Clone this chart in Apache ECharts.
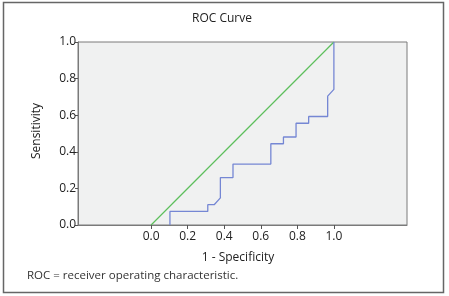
<!DOCTYPE html>
<html>
<head>
<meta charset="utf-8">
<script src="https://cdn.jsdelivr.net/npm/echarts@6/dist/echarts.min.js"></script>
<style>
    html, body { margin: 0; padding: 0; background: #fff; }
    #roc { width: 449px; height: 296px; }
</style>
</head>
<body>
<div id="roc"></div>
<script>
    // ROC 曲线数据 (1 - Specificity, Sensitivity)
    var fpr = [0.103, 0.103, 0.310, 0.310, 0.345, 0.379, 0.379, 0.448, 0.448, 0.655, 0.655, 0.724, 0.724, 0.793, 0.793, 0.862, 0.862, 0.966, 0.966, 1.0, 1.0];
    var tpr = [0.0, 0.074, 0.074, 0.111, 0.111, 0.148, 0.259, 0.259, 0.333, 0.333, 0.444, 0.444, 0.481, 0.481, 0.556, 0.556, 0.593, 0.593, 0.704, 0.741, 1.0];
    // 参考线
    var refX = [0, 1];
    var refY = [0, 1];
    var tickValues = [0, 0.2, 0.4, 0.6, 0.8, 1.0];

    function pairs(xs, ys) {
        var out = [];
        for (var i = 0; i < xs.length; i++) {
            out.push([xs[i], ys[i]]);
        }
        return out;
    }

    var font = '"Open Sans", "Noto Sans", sans-serif';
    var myChart = echarts.init(document.getElementById('roc'));
    myChart.setOption({
        animation: false,
        textStyle: { fontFamily: font },
        grid: {
            left: 78,
            right: 42,
            top: 42,
            bottom: 71,
            show: true,
            backgroundColor: '#f0f1f1',
            borderColor: '#7a7a7a',
            borderWidth: 1
        },
        xAxis: {
            type: 'value',
            min: -0.4,
            max: 1.4,
            interval: 0.2,
            axisLine: { show: true, onZero: false, lineStyle: { color: '#7a7a7a' } },
            axisTick: { show: true, length: 4, customValues: tickValues, lineStyle: { color: '#555' } },
            axisLabel: {
                customValues: tickValues,
                margin: 6,
                color: '#222',
                fontSize: 12,
                fontFamily: font,
                formatter: function (v) { return v.toFixed(1); }
            },
            splitLine: { show: false }
        },
        yAxis: {
            type: 'value',
            min: 0,
            max: 1,
            interval: 0.2,
            axisLine: { show: true, onZero: false, lineStyle: { color: '#7a7a7a' } },
            axisTick: { show: true, length: 3, lineStyle: { color: '#555' } },
            axisLabel: {
                margin: 2,
                color: '#222',
                fontSize: 12,
                fontFamily: font,
                formatter: function (v) { return v.toFixed(1); }
            },
            splitLine: { show: false }
        },
        series: [
            {
                name: 'Reference',
                type: 'line',
                data: pairs(refX, refY),
                symbol: 'none',
                itemStyle: { color: '#5cbf5c' },
                lineStyle: { color: '#5cbf5c', width: 1.2 }
            },
            {
                name: 'ROC',
                type: 'line',
                data: pairs(fpr, tpr),
                symbol: 'none',
                itemStyle: { color: '#7587d4' },
                lineStyle: { color: '#7587d4', width: 1.3 }
            }
        ],
        graphic: [
            {
                type: 'rect',
                shape: { x: 3.5, y: 2.5, width: 440, height: 290 },
                style: { fill: 'none', stroke: '#666', lineWidth: 1.5 },
                silent: true
            },
            {
                type: 'text',
                x: 222, y: 19,
                style: { text: 'ROC Curve', font: '12px ' + font, fill: '#222', textAlign: 'center', textVerticalAlign: 'middle' }
            },
            {
                type: 'text',
                x: 238, y: 258,
                style: { text: '1 - Specificity', font: '12px ' + font, fill: '#222', textAlign: 'center', textVerticalAlign: 'middle' }
            },
            {
                type: 'text',
                x: 37, y: 131,
                rotation: Math.PI / 2,
                style: { text: 'Sensitivity', font: '12px ' + font, fill: '#222', textAlign: 'center', textVerticalAlign: 'middle' }
            },
            {
                type: 'text',
                x: 27, y: 276,
                style: { text: 'ROC = receiver operating characteristic.', font: '11.5px ' + font, fill: '#333', textAlign: 'left', textVerticalAlign: 'middle' }
            }
        ]
    });
</script>
</body>
</html>
